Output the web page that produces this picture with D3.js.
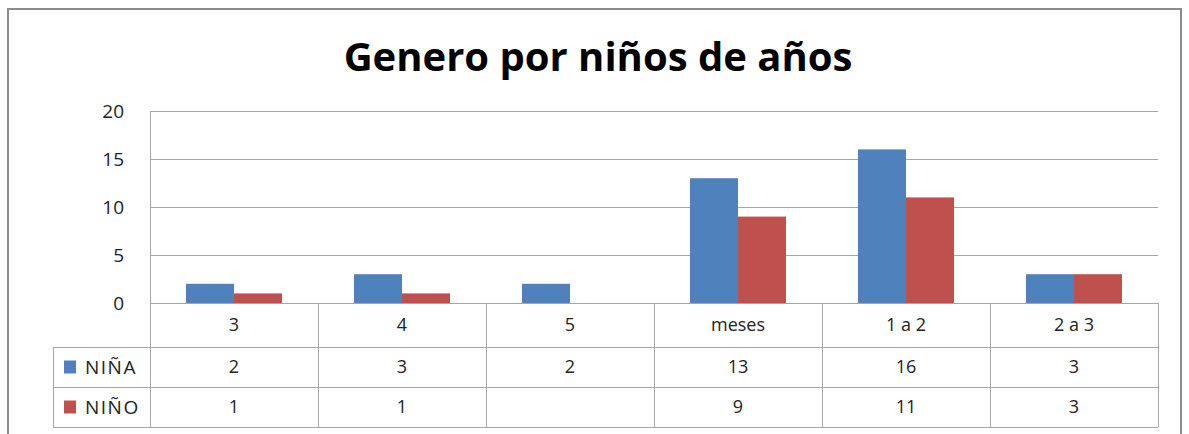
<!DOCTYPE html>
<html>
<head>
<meta charset="utf-8">
<script src="https://cdn.jsdelivr.net/npm/d3@7"></script>
<style>
  body { margin: 0; background: #fff; }
  svg { display: block; font-family: "Open Sans", sans-serif; }
</style>
</head>
<body>
<svg id="chart" width="1189" height="434"></svg>
<script>
"use strict";

const categories = ["3", "4", "5", "meses", "1 a 2", "2 a 3"];
const series = ["NIÑA", "NIÑO"];
const ninaValues = [2, 3, 2, 13, 16, 3];
const ninoValues = [1, 1, null, 9, 11, 3];
const yTicks = [0, 5, 10, 15, 20];
const colors = ["#4F81BD", "#C0504D"];

const svg = d3.select("#chart");

// chart frame (no bottom edge, it is cut off)
svg.append("path")
  .attr("d", "M8,434 V9 H1181 V434")
  .attr("fill", "none")
  .attr("stroke", "#8c8c8c")
  .attr("stroke-width", 2);

svg.append("text")
  .attr("x", 598)
  .attr("y", 71)
  .attr("text-anchor", "middle")
  .attr("font-size", 40)
  .attr("font-weight", "bold")
  .attr("fill", "#000")
  .text("Genero por niños de años");

const x = d3.scaleBand().domain(categories).range([150, 1158]);
const xInner = d3.scaleBand().domain(series).range([0, x.bandwidth()]).paddingOuter(0.75);
const y = d3.scaleLinear().domain([0, 20]).range([303, 111]);

// gridlines
svg.append("g")
  .selectAll("line")
  .data(yTicks)
  .join("line")
  .attr("x1", 150)
  .attr("x2", 1158)
  .attr("y1", (d) => Math.round(y(d)) + 0.5)
  .attr("y2", (d) => Math.round(y(d)) + 0.5)
  .attr("stroke", "#a6a6a6");

// y axis labels
const yAxis = svg.append("g")
  .attr("transform", "translate(150,0)")
  .call(d3.axisLeft(y).tickValues(yTicks).tickSize(0).tickPadding(26));
yAxis.select(".domain").remove();
yAxis.selectAll("text")
  .attr("font-family", "Open Sans, sans-serif")
  .attr("font-size", 19)
  .attr("fill", "#222");

// bars
const rows = series.map((s, i) => ({
  name: s,
  color: colors[i],
  values: i === 0 ? ninaValues : ninoValues,
}));

rows.forEach((row) => {
  svg.append("g")
    .selectAll("rect")
    .data(categories.map((c, j) => ({ cat: c, value: row.values[j] })).filter((d) => d.value != null))
    .join("rect")
    .attr("x", (d) => x(d.cat) + xInner(row.name))
    .attr("y", (d) => y(d.value))
    .attr("width", xInner.bandwidth())
    .attr("height", (d) => y(0) - y(d.value))
    .attr("fill", row.color);
});

// data table
const rowTop = [303, 347, 387, 427];
const table = svg.append("g")
  .attr("stroke", "#a6a6a6")
  .attr("fill", "none");

// horizontal lines
table.append("line").attr("x1", 150).attr("x2", 1158).attr("y1", 303.5).attr("y2", 303.5);
[347, 387, 427].forEach((yy) => {
  table.append("line").attr("x1", 53).attr("x2", 1158).attr("y1", yy + 0.5).attr("y2", yy + 0.5);
});
// vertical lines
table.append("line").attr("x1", 150.5).attr("x2", 150.5).attr("y1", 111).attr("y2", 427);
table.append("line").attr("x1", 53.5).attr("x2", 53.5).attr("y1", 347).attr("y2", 427);
categories.forEach((c) => {
  const xx = Math.round(x(c) + x.bandwidth()) + 0.5;
  table.append("line").attr("x1", xx).attr("x2", xx).attr("y1", 303).attr("y2", 427);
});

const cellText = svg.append("g")
  .attr("font-size", 18)
  .attr("fill", "#222")
  .attr("text-anchor", "middle");

cellText.selectAll("text.cat")
  .data(categories)
  .join("text")
  .attr("class", "cat")
  .attr("x", (d) => x(d) + x.bandwidth() / 2)
  .attr("y", (rowTop[0] + rowTop[1]) / 2)
  .attr("dy", "0.35em")
  .text((d) => d);

rows.forEach((row, i) => {
  const cy = (rowTop[i + 1] + rowTop[i + 2]) / 2;
  cellText.append("g")
    .selectAll("text")
    .data(categories.map((c, j) => ({ cat: c, value: row.values[j] })))
    .join("text")
    .attr("x", (d) => x(d.cat) + x.bandwidth() / 2)
    .attr("y", cy)
    .attr("dy", "0.35em")
    .text((d) => (d.value == null ? "" : d.value));

  svg.append("rect")
    .attr("x", 64)
    .attr("y", cy - 6.5)
    .attr("width", 12)
    .attr("height", 13)
    .attr("fill", row.color);

  svg.append("text")
    .attr("x", 85)
    .attr("y", cy)
    .attr("dy", "0.35em")
    .attr("font-size", 19)
    .attr("letter-spacing", 1.5)
    .attr("fill", "#222")
    .text(row.name);
});
</script>
</body>
</html>
